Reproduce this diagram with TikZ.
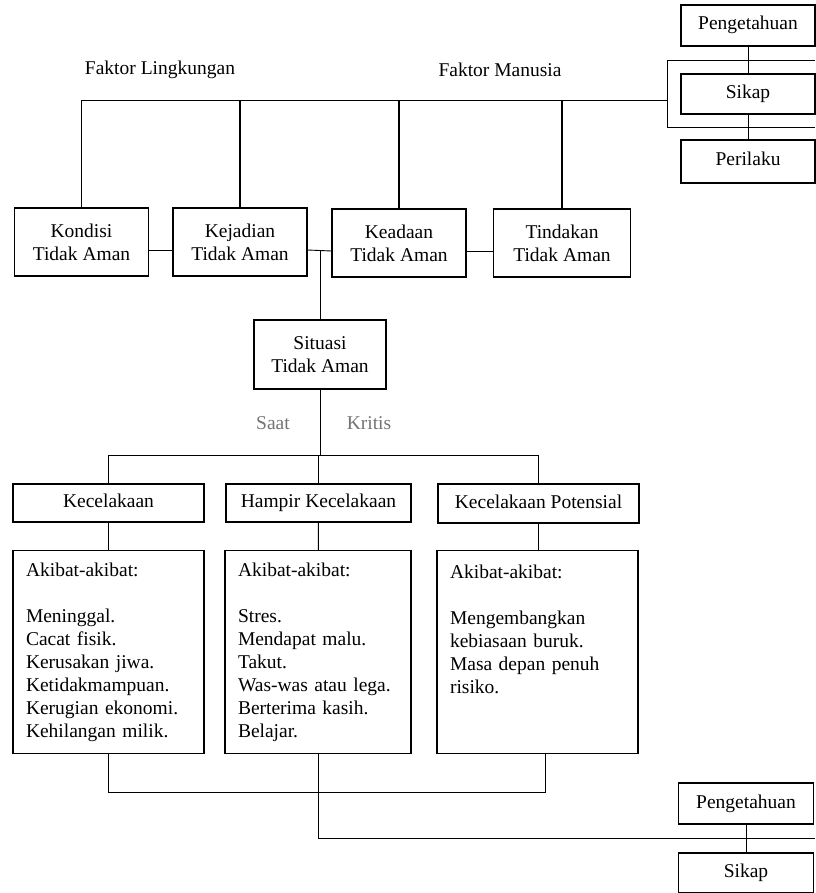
\documentclass[tikz,border=0pt]{standalone}
\usepackage{fontspec}
\setmainfont{Liberation Serif}
\usetikzlibrary{positioning}

\begin{document}
\begin{tikzpicture}[
    x=1pt, y=-1pt,
    font=\fontsize{19.5}{23}\selectfont,
    box/.style={draw=black, line width=1.1pt, align=center, inner sep=2pt},
    onebox/.style={box, text height=13pt, text depth=4pt},
    listbox/.style={draw=black, line width=1.1pt, align=left, inner xsep=13pt, inner ysep=12pt,
      minimum height=203pt},
    link/.style={draw=black, line width=0.9pt},
    drop/.style={draw=black, line width=1.8pt},
    faint/.style={text=black!55}
  ]
    \useasboundingbox (0,0) rectangle (815,893);
    \node (envlabel) at (160,70) {Faktor Lingkungan};
    \node (humlabel) at (500,70) {Faktor Manusia};
    \node[onebox, minimum width=134pt, minimum height=41pt] (knowtop) at (748,25.5) {Pengetahuan};
    \node[onebox, minimum width=134pt, minimum height=40pt] (atttop) at (748,94) {Sikap};
    \node[onebox, minimum width=134pt, minimum height=43pt] (behtop) at (748,161.5) {Perilaku};
    \coordinate (frameW) at (667,100);
    \node[box, minimum width=134pt, minimum height=68pt] (kondisi) at (81.5,242) {Kondisi\\Tidak Aman};
    \node[box, minimum width=134pt, minimum height=68pt] (kejadian) at (240,242) {Kejadian\\Tidak Aman};
    \node[box, minimum width=134pt, minimum height=68pt] (keadaan) at (399,243) {Keadaan\\Tidak Aman};
    \node[box, minimum width=137pt, minimum height=68pt] (tindakan) at (562,243) {Tindakan\\Tidak Aman};
    \coordinate (split) at (320,250);
    \node[box, minimum width=132pt, minimum height=69pt] (situasi) at (320,354.5) {Situasi\\Tidak Aman};
    \node[faint] (saat) at (273,423) {Saat};
    \node[faint] (kritis) at (369,423) {Kritis};
    \coordinate (bar) at (320,455);
    \node[onebox, minimum width=191pt, minimum height=38pt] (kecelakaan) at (108.5,503) {Kecelakaan};
    \node[onebox, minimum width=185pt, minimum height=38pt] (hampir) at (318.5,503) {Hampir Kecelakaan};
    \node[onebox, minimum width=201pt, minimum height=39pt] (potensial) at (538.5,503.5) {Kecelakaan Potensial};
    \node[listbox, text width=165pt, anchor=north] (akibatA) at (108.5,550) {Akibat-akibat:\\ \mbox{}\\ Meninggal.\\ Cacat fisik.\\ Kerusakan jiwa.\\ Ketidakmampuan.\\ Kerugian ekonomi.\\ Kehilangan milik.};
    \node[listbox, text width=160pt, anchor=north] (akibatB) at (318,550) {Akibat-akibat:\\ \mbox{}\\ Stres.\\ Mendapat malu.\\ Takut.\\ Was-was atau lega.\\ Berterima kasih.\\ Belajar.};
    \node[listbox, text width=175pt, anchor=north] (akibatC) at (537.5,550) {Akibat-akibat:\\ \mbox{}\\ Mengembangkan\\ kebiasaan buruk.\\ Masa depan penuh\\ risiko.\\ \mbox{}\\ \mbox{}};
    \coordinate (mergeA) at (545,792);
    \coordinate (mergeB) at (815,838);
    \node[onebox, minimum width=135pt, minimum height=41pt] (knowbot) at (746,803.5) {Pengetahuan};
    \node[onebox, minimum width=135pt, minimum height=40pt] (attbot) at (746,873) {Sikap};
    % top right
    \draw[link] (knowtop) -- (atttop);
    \draw[link] (atttop) -- (behtop);
    \draw[link] (815,60) -| (667,127) -- (815,127);
    \draw[link] (kondisi.north |- frameW) -- (frameW);
    \foreach \b in {kondisi,kejadian,keadaan,tindakan}
      \draw[drop] (\b.north) -- (\b.north |- frameW);
    % middle row
    \draw[link] ([yshift=-8pt]kondisi.east) -- ([yshift=-8pt]kejadian.west);
    \draw[link] ([yshift=-8pt]kejadian.east) -- ([yshift=-8pt]keadaan.west);
    \draw[link] ([yshift=-8pt]keadaan.east) -- ([yshift=-8pt]tindakan.west);
    \draw[link] (split) -- (situasi.north);
    \draw[link] (situasi.south) -- (bar);
    \draw[link] (kecelakaan.north) |- (bar);
    \draw[link] (potensial.north) |- (bar);
    \draw[link] (hampir.north) -- (hampir.north |- bar);
    \draw[link] (kecelakaan) -- (akibatA);
    \draw[link] (hampir) -- (akibatB);
    \draw[link] (potensial) -- (akibatC.north -| potensial);
    % bottom
    \draw[link] (akibatA.south) |- (mergeA) -- (mergeA |- akibatC.south);
    \draw[link] (akibatB.south) |- (mergeB);
    \draw[link] (knowbot) -- (attbot);
  \end{tikzpicture}
\end{document}
